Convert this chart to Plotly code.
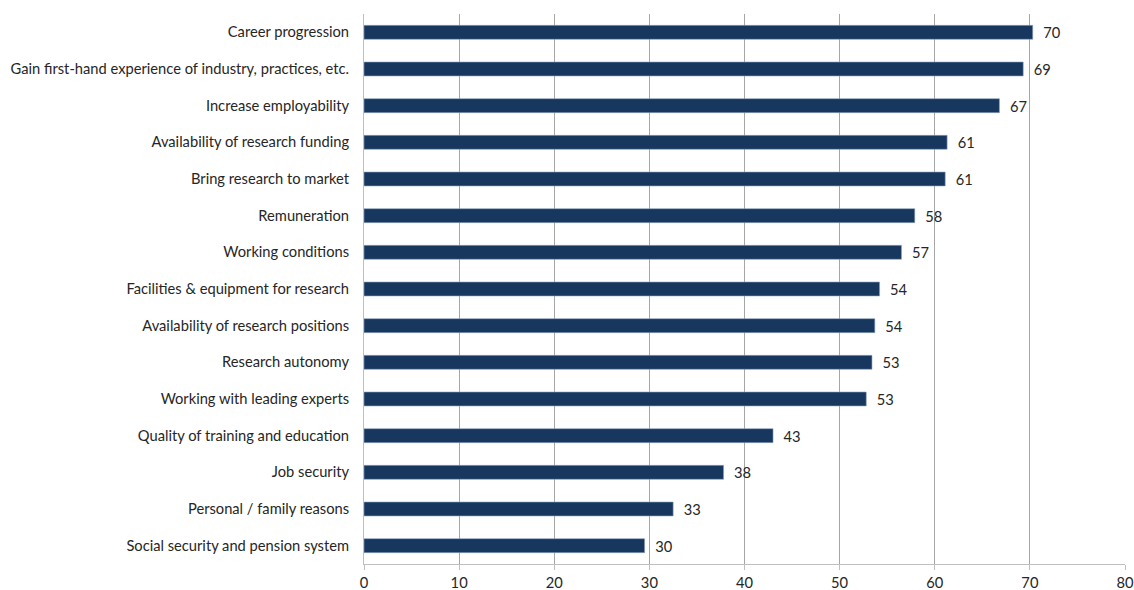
import plotly.graph_objects as go

categories = [
    "Career progression",
    "Gain first-hand experience of industry, practices, etc.",
    "Increase employability",
    "Availability of research funding",
    "Bring research to market",
    "Remuneration",
    "Working conditions",
    "Facilities & equipment for research",
    "Availability of research positions",
    "Research autonomy",
    "Working with leading experts",
    "Quality of training and education",
    "Job security",
    "Personal / family reasons",
    "Social security and pension system",
]
values = [70.3, 69.3, 66.8, 61.3, 61.1, 57.9, 56.5, 54.2, 53.7, 53.4, 52.8, 43.0, 37.8, 32.5, 29.5]
labels = ["70", "69", "67", "61", "61", "58", "57", "54", "54", "53", "53", "43", "38", "33", "30"]
x_ticks = [0, 10, 20, 30, 40, 50, 60, 70, 80]

font_family = "Lato, 'Open Sans', sans-serif"
text_color = "#262626"
fsize = 14.7

fig = go.Figure()
fig.add_trace(go.Bar(
    x=values,
    y=categories,
    orientation="h",
    text=labels,
    texttemplate="  %{text}",
    textposition="outside",
    constraintext="none",
    textfont=dict(size=fsize, color=text_color, family=font_family),
    cliponaxis=False,
    marker=dict(color="#17375E", line=dict(color="#8EA4C0", width=0.6)),
    hoverinfo="x+y",
))

fig.update_layout(
    width=1134,
    height=590,
    margin=dict(l=364, r=9, t=14, b=26),
    plot_bgcolor="white",
    paper_bgcolor="white",
    font=dict(family=font_family, size=fsize, color=text_color),
    bargap=0.62,
    showlegend=False,
)

fig.update_xaxes(
    range=[0, 80],
    tickvals=x_ticks,
    automargin=False,
    showgrid=True,
    gridcolor="#A6A6A6",
    gridwidth=1,
    zeroline=False,
    showline=True,
    linecolor="#BFBFBF",
    linewidth=1,
    ticks="outside",
    ticklen=5,
    tickcolor="#BFBFBF",
    tickfont=dict(size=fsize),
)
fig.update_yaxes(
    autorange="reversed",
    automargin=False,
    showline=True,
    linecolor="#BFBFBF",
    linewidth=1,
    showgrid=False,
    ticks="",
    ticklabelstandoff=11,
    tickfont=dict(size=fsize),
)

# drop the default body margin so the figure fills the window exactly
fig.write_html(
    "out.html",
    config={"displayModeBar": False},
    post_script="document.body.style.margin='0';document.body.style.overflow='hidden';",
)
